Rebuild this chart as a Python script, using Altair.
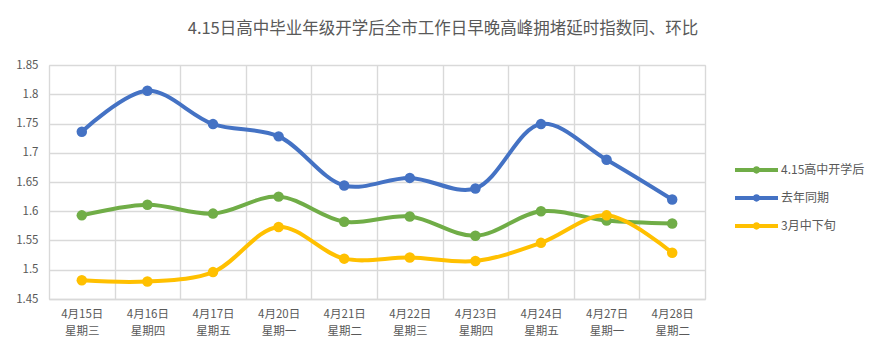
import altair as alt
import pandas as pd

dates = ["4月15日\n星期三", "4月16日\n星期四", "4月17日\n星期五", "4月20日\n星期一", "4月21日\n星期二",
         "4月22日\n星期三", "4月23日\n星期四", "4月24日\n星期五", "4月27日\n星期一", "4月28日\n星期二"]
series_names = ["4.15高中开学后", "去年同期", "3月中下旬"]
green_vals = [1.593, 1.611, 1.596, 1.625, 1.582, 1.591, 1.558, 1.600, 1.584, 1.579]
blue_vals = [1.736, 1.806, 1.749, 1.728, 1.644, 1.657, 1.639, 1.749, 1.688, 1.620]
yellow_vals = [1.482, 1.480, 1.496, 1.573, 1.519, 1.521, 1.515, 1.546, 1.593, 1.529]
colors = ["#70AD47", "#4472C4", "#FFC000"]
y_ticks = [1.45, 1.5, 1.55, 1.6, 1.65, 1.7, 1.75, 1.8, 1.85]

rows = []
for name, vals in zip(series_names, [green_vals, blue_vals, yellow_vals]):
    for d, v in zip(dates, vals):
        rows.append({"date": d, "series": name, "value": v})
df = pd.DataFrame(rows)

FONT = "Noto Sans CJK SC"
GREY = "#595959"

x_enc = alt.X("date:N", sort=dates, bandPosition=0.5,
              scale=alt.Scale(type="band", paddingInner=0, paddingOuter=0),
              axis=alt.Axis(title=None, labelAngle=0, tickBand="extent", ticks=False,
                            grid=True, gridColor="#D9D9D9", gridWidth=1.4,
                            domainColor="#D9D9D9", domainWidth=1.4,
                            labelExpr="split(datum.label, '\\n')",
                            labelFont=FONT, labelFontSize=11.5, labelColor=GREY,
                            labelPadding=9, labelLineHeight=17))
y_enc = alt.Y("value:Q", scale=alt.Scale(domain=[1.45, 1.85], nice=False, zero=False),
              axis=alt.Axis(title=None, values=y_ticks, format=".3~g", domain=False, ticks=False,
                            gridColor="#D9D9D9", gridWidth=1.4,
                            labelFont=FONT, labelFontSize=11.5, labelColor=GREY, labelPadding=11))
color_scale = alt.Scale(domain=series_names, range=colors)

legend_path = ("M-1,-0.09 L1,-0.09 L1,0.09 L-1,0.09 Z "
               "M0.17,0 A0.17,0.17 0 1,1 -0.17,0 A0.17,0.17 0 1,1 0.17,0 Z")
legend = alt.Legend(title=None, orient="none", legendX=686, legendY=97,
                    symbolType=legend_path, symbolSize=1849,
                    symbolStrokeWidth=0, clipHeight=16, rowPadding=12,
                    labelFont=FONT, labelFontSize=12, labelColor=GREY,
                    labelOffset=3)

lines = alt.Chart(df).mark_line(interpolate="catmull-rom", strokeWidth=4).encode(
    x=x_enc, y=y_enc,
    color=alt.Color("series:N", scale=color_scale, legend=legend),
    detail="series:N",
)
points = alt.Chart(df).mark_point(filled=True, opacity=1, size=110, shape="circle").encode(
    x=x_enc, y=y_enc,
    color=alt.Color("series:N", scale=color_scale, legend=legend),
)

chart = alt.layer(lines, points).properties(
    width=656, height=234,
    autosize=alt.AutoSizeParams(type="none"),
    padding={"left": 41, "right": 175, "top": 57, "bottom": 49},
    title=alt.Title("4.15日高中毕业年级开学后全市工作日早晚高峰拥堵延时指数同、环比",
                    font=FONT, fontSize=16.5, fontWeight="normal", color=GREY,
                    anchor="middle", frame="group", dx=66, offset=22),
).configure_view(stroke=None).configure(background="white")

chart.save("out.html", embed_options={"renderer": "svg", "actions": False})
